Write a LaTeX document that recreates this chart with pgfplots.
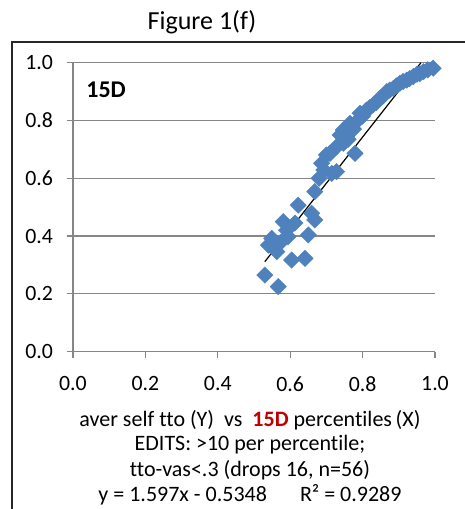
\documentclass[border=0pt]{standalone}
\usepackage{fontspec}
\setmainfont[Ligatures=NoCommon]{Carlito}
\usepackage{pgfplots}
\pgfplotsset{compat=1.18}

\definecolor{ptblue}{RGB}{79,129,189}
\definecolor{gridgray}{RGB}{134,134,134}
\definecolor{darkred}{RGB}{192,0,0}

\pgfplotstableread{
x      y
0.530  0.265
0.567  0.225
0.540  0.369
0.549  0.392
0.563  0.346
0.575  0.380
0.581  0.450
0.590  0.420
0.594  0.398
0.604  0.317
0.613  0.445
0.622  0.507
0.641  0.323
0.650  0.404
0.659  0.479
0.668  0.456
0.668  0.554
0.680  0.600
0.687  0.652
0.693  0.629
0.700  0.681
0.710  0.686
0.715  0.617
0.728  0.623
0.728  0.709
0.738  0.750
0.747  0.721
0.747  0.767
0.756  0.744
0.760  0.735
0.765  0.790
0.775  0.770
0.779  0.686
0.788  0.802
0.793  0.825
0.800  0.815
0.811  0.836
0.820  0.845
0.829  0.854
0.838  0.862
0.848  0.877
0.857  0.885
0.867  0.900
0.875  0.905
0.885  0.911
0.893  0.920
0.903  0.929
0.912  0.935
0.922  0.940
0.930  0.945
0.940  0.952
0.950  0.960
0.958  0.962
0.968  0.969
0.980  0.975
0.995  0.981
}\scatterdata

\begin{document}
\begin{tikzpicture}[x=1pt,y=1pt]
\useasboundingbox (0,0) rectangle (232.5,254.5);
% outer chart frame (left and top edges)
\draw[black!85, line width=0.8pt] (6,0) -- (6,233.5) -- (232.5,233.5);
% title
\node[font=\fontsize{13}{15}\selectfont] at (101,243.5) {Figure 1(f)};
\begin{axis}[
  at={(36.5pt,78.65pt)}, anchor=origin,
  scale only axis, width=181pt, height=144.5pt,
  xmin=0, xmax=1, ymin=0, ymax=1,
  xtick={0,0.2,...,1.0}, ytick={0,0.2,...,1.0},
  axis x line*=bottom, axis y line*=left,
  axis line style={gridgray, line width=0.6pt},
  tick style={gridgray, line width=0.6pt},
  tick align=outside, major tick length=3pt,
  ymajorgrids, grid style={gridgray, line width=0.6pt},
  /pgf/number format/.cd, fixed, fixed zerofill, precision=1, assume math mode=true,
  /pgfplots/.cd,
  ticklabel style={font=\fontsize{10.9}{13}\selectfont, text=black},
  xticklabel style={yshift=-6pt},
  yticklabel style={xshift=-3.5pt},
  clip=false,
]
\addplot[only marks, mark=square*, mark size=2.9pt,
  mark options={rotate=45, fill=ptblue, draw=ptblue, line width=0.2pt}]
  table[x=x, y=y] {\scatterdata};
% linear trend y = 1.597x - 0.5348, drawn up to the top of the axis
\addplot[black, line width=0.6pt] coordinates {(0.530,0.3116) (0.9612,1.0)};
\end{axis}
\node[anchor=west, inner sep=0pt, font=\fontsize{12}{14}\selectfont\bfseries] at (43,209.5) {15D};
\begin{scope}[every node/.style={font=\fontsize{11}{13}\selectfont}]
\node at (125,44.5) {aver self tto (Y)\ \ vs\ \ \textcolor{darkred}{\bfseries 15D} percentiles\,(X)};
\node at (125,32) {EDITS: >10 per percentile;};
\node at (125,19.5) {tto-vas<.3 (drops 16, n=56)};
\node at (125,7) {y = 1.597x - 0.5348\hspace{1.5em}R² = 0.9289};
\end{scope}
\end{tikzpicture}
\end{document}
